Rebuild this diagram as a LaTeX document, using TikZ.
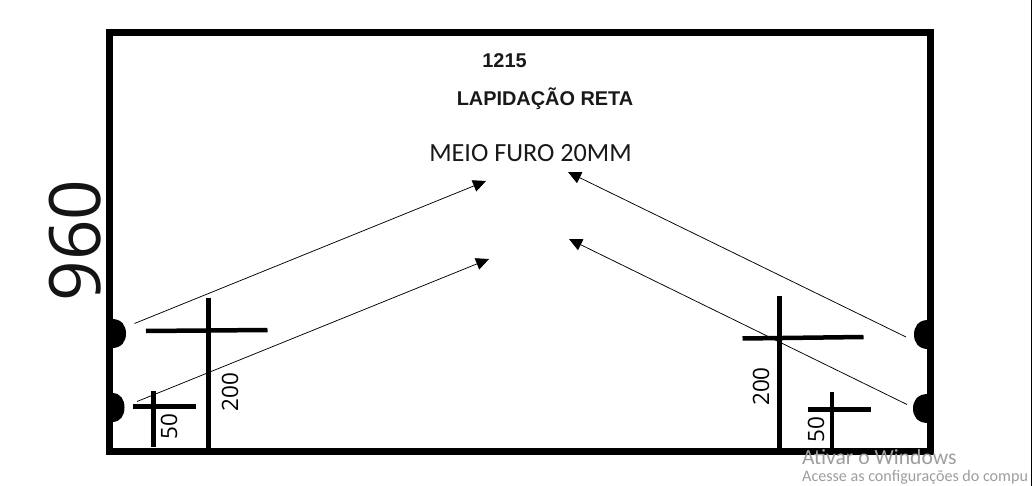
\documentclass[tikz,border=0pt]{standalone}
\usepackage{fontspec}
\setmainfont{Liberation Sans}
\newfontfamily\carlito{Carlito}
\newfontfamily\openfont{Open Sans}
\usetikzlibrary{arrows.meta}
\tikzset{
  frame/.style={draw=black,line width=7pt,miter limit=10},
  bar/.style={draw=black,line width=4.5pt},
  hole/.style={fill=black,draw=none},
  arrowline/.style={draw=black,line width=0.75pt,-{Triangle[length=13pt,width=12pt]}},
  boldlabel/.style={font=\bfseries\fontsize{19.9}{22}\selectfont,inner sep=0pt,text=black!90},
  dimlabel/.style={font=\openfont\fontsize{22.5}{25}\selectfont,inner sep=0pt,rotate=90},
  wm/.style={inner sep=0pt,anchor=base west,text=black!38},
}
\begin{document}
\begin{tikzpicture}[x=1pt,y=-1pt]
\useasboundingbox (0,0) rectangle (1032,486);
\fill[white] (0,0) rectangle (1032,486);
% frame
\draw[frame] (109.5,32.5) rectangle (930.5,451.5);
% half-round holes
\fill[hole] (112,319) .. controls (122,319) and (126,326) .. (126,333.5) .. controls (126,341) and (122,348) .. (112,348) -- cycle;
\fill[hole] (112,393) .. controls (121,393) and (124.5,400) .. (124.5,407.5) .. controls (124.5,415) and (121,422) .. (112,422) -- cycle;
\fill[hole] (928,320) .. controls (918,320) and (914,327) .. (914,334.5) .. controls (914,342) and (918,349) .. (928,349) -- cycle;
\fill[hole] (928,394) .. controls (917,394) and (913,401) .. (913,408.5) .. controls (913,416) and (917,423) .. (928,423) -- cycle;
% named points
\coordinate (la1) at (134.5,323.5);
\coordinate (lb1) at (486,181);
\coordinate (la2) at (137,401.5);
\coordinate (lb2) at (489,259);
\coordinate (ra1) at (906,337);
\coordinate (rb1) at (568,172);
\coordinate (ra2) at (907,404.5);
\coordinate (rb2) at (569,239);
% dimension bars
\coordinate (v1a) at (208.5,298); \coordinate (v1b) at (208.5,448);
\coordinate (h1a) at (146,331);   \coordinate (h1b) at (267.5,330);
\coordinate (v2a) at (153.5,391); \coordinate (v2b) at (153.5,447);
\coordinate (h2a) at (132.5,406.5); \coordinate (h2b) at (195.5,406.5);
\coordinate (v3a) at (779.5,296); \coordinate (v3b) at (779.5,448);
\coordinate (h3a) at (742.5,338.5); \coordinate (h3b) at (863.5,337);
\coordinate (v4a) at (832,392);   \coordinate (v4b) at (832,448);
\coordinate (h4a) at (808,409.5); \coordinate (h4b) at (870.5,409.5);
\draw[bar] (v1a) -- (v1b);
\draw[bar] (h1a) -- (h1b);
\draw[bar] (v2a) -- (v2b);
\draw[bar] (h2a) -- (h2b);
\draw[bar] (v3a) -- (v3b);
\draw[bar] (h3a) -- (h3b);
\draw[bar] (v4a) -- (v4b);
\draw[bar] (h4a) -- (h4b);
% arrows
\draw[arrowline] (la1) -- (lb1);
\draw[arrowline] (la2) -- (lb2);
\draw[arrowline] (ra1) -- (rb1);
\draw[arrowline] (ra2) -- (rb2);
% labels
\node[boldlabel] (t1215) at (504.5,61) {1215};
\node[boldlabel] (tlap) at (545,99) {LAPIDAÇÃO RETA};
\node[inner sep=0pt,font=\carlito\fontsize{26.2}{28}\selectfont,text=black!90] (tmeio) at (530.5,153) {MEIO FURO 20MM};
\node[inner sep=0pt,rotate=90,font=\openfont\fontsize{71}{73}\selectfont,text=black!92] (t960) at (75,240.5) {960};
\node[dimlabel] (d200l) at (230,392) {200};
\node[dimlabel] (d50l)  at (169,427) {50};
\node[dimlabel] (d200r) at (761,386.5) {200};
\node[dimlabel] (d50r)  at (816,429.5) {50};
% screen watermark
\node[wm,font=\carlito\fontsize{21.6}{24}\selectfont] (wm1) at (802,464) {Ativar o Windows};
\node[wm,font=\carlito\fontsize{16.1}{18}\selectfont] (wm2) at (802,481.5) {Acesse as configurações do compu};
\coordinate (edgea) at (1031.5,0); \coordinate (edgeb) at (1031.5,486);
\draw[black,line width=1pt] (edgea) -- (edgeb);
\end{tikzpicture}
\end{document}
